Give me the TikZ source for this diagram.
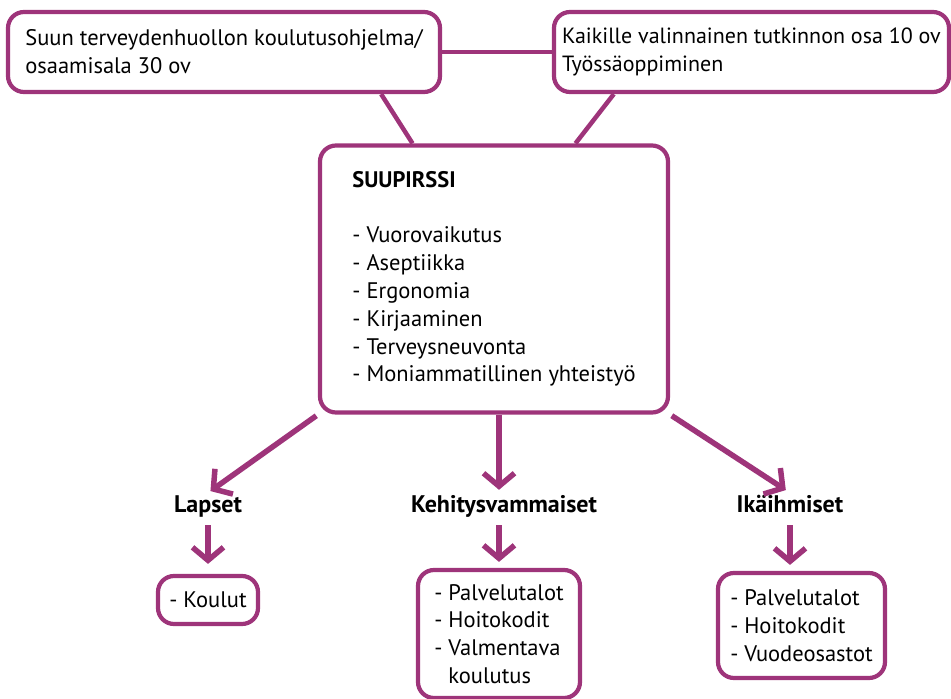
\documentclass[tikz,border=0pt]{standalone}
\usepackage{fontspec}
\setmainfont{PT Sans}
\usetikzlibrary{arrows.meta}
\definecolor{suupurple}{RGB}{158,52,122}

\begin{document}
\begin{tikzpicture}[x=1pt, y=-1pt,
    box/.style={draw=suupurple, line width=4.2pt, rounded corners=16pt, fill=white,
      align=left, inner sep=0pt, font=\fontsize{22.5}{27.8}\selectfont},
    group/.style={inner sep=2pt, text height=17pt, text depth=5pt,
      font=\fontsize{24}{28}\selectfont\bfseries},
    link/.style={draw=suupurple, line width=4.5pt},
    pointer/.style={draw=suupurple, line width=5.5pt,
      -{Straight Barb[length=13pt, width=31pt]}}]
  \useasboundingbox (0,0) rectangle (951,699);

  \node[box, minimum width=432, minimum height=80] (program) at (224,52)
    {Suun terveydenhuollon koulutusohjelma/\\osaamisala 30 ov};
  \node[box, minimum width=395, minimum height=80, font=\fontsize{22}{27.8}\selectfont]
    (optional) at (751.5,52)
    {Kaikille valinnainen tutkinnon osa 10 ov\\Työssäoppiminen};
  \node[box, minimum width=348, minimum height=267] (suupirssi) at (494,279)
    {\textbf{SUUPIRSSI}\\[27.5pt]
     - Vuorovaikutus\\- Aseptiikka\\- Ergonomia\\- Kirjaaminen\\
     - Terveysneuvonta\\- Moniammatillinen yhteistyö};

  \node[group] (children) at (208,506) {Lapset};
  \node[group] (disabled) at (504,506) {Kehitysvammaiset};
  \node[group] (elderly) at (790,506) {Ikäihmiset};

  \node[box, minimum width=100, minimum height=48] (schools) at (208,600)
    {- Koulut};
  \node[box, minimum width=162, minimum height=128] (dplaces) at (499,634)
    {- Palvelutalot\\- Hoitokodit\\- Valmentava\\\phantom{- }koulutus};
  \node[box, minimum width=167, minimum height=105] (eplaces) at (801.5,625.5)
    {- Palvelutalot\\- Hoitokodit\\- Vuodeosastot};

  \draw[link] (program.east) -- (optional.west);
  \draw[link] (program.-15.5) -- (suupirssi.121.3);
  \draw[link] (optional.197.4) -- (suupirssi.59.4);

  \draw[pointer, shorten <=2pt, shorten >=3pt] (suupirssi.south west) -- (children.north);
  \draw[pointer, shorten >=3pt] (suupirssi.south -| dplaces.north) -- (dplaces.north |- disabled.north);
  \draw[pointer, shorten <=2pt, shorten >=5pt] (suupirssi.south east) -- (elderly.north);

  \draw[pointer, shorten <=6pt, shorten >=10pt] (children.south) -- (schools.north);
  \draw[pointer, shorten <=6pt, shorten >=6pt] (disabled.south -| dplaces.north) -- (dplaces.north);
  \draw[pointer, shorten <=6pt, shorten >=6pt] (elderly.south) -- (elderly.south |- eplaces.north);
\end{tikzpicture}
\end{document}
